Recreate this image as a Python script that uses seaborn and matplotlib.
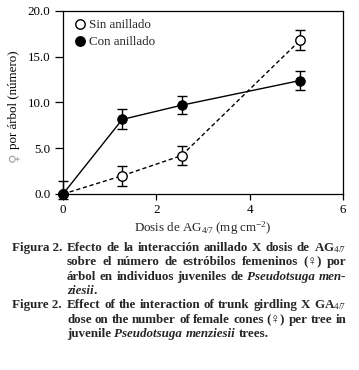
import matplotlib
matplotlib.use("Agg")
import matplotlib.pyplot as plt
import seaborn as sns
import pandas as pd
import numpy as np
from matplotlib.lines import Line2D

# ---- data ----
doses = [0.0, 1.27, 2.54, 5.08]
sin_anillado = [0.0, 2.0, 4.2, 16.8]
sin_err = [0.0, 1.1, 1.0, 1.08]
con_anillado = [0.0, 8.15, 9.7, 12.4]
con_err_low = [0.55, 1.0, 1.0, 1.07]
con_err_high = [1.45, 1.15, 1.05, 1.07]
group_labels = ["Sin anillado", "Con anillado"]
x_ticks = [0, 2, 4, 6]
y_ticks = [0, 5, 10, 15, 20]

sns.set_theme(style="ticks")
plt.rcParams["font.family"] = ["Liberation Serif", "DejaVu Serif"]
plt.rcParams["mathtext.fontset"] = "custom"
plt.rcParams["mathtext.rm"] = "Liberation Serif"
plt.rcParams["mathtext.it"] = "Liberation Serif:italic"
plt.rcParams["mathtext.bf"] = "Liberation Serif:bold"

FS = 9.4
W, H = 359, 370
fig = plt.figure(figsize=(W / 100, H / 100), dpi=100)
ax = fig.add_axes([63 / W, 1 - 194 / H, (343 - 63) / W, (194 - 11) / H])

df = pd.DataFrame({
    "dose": doses * 2,
    "value": sin_anillado + con_anillado,
    "group": [group_labels[0]] * 4 + [group_labels[1]] * 4,
})

# error bars (behind markers)
ax.errorbar(doses, sin_anillado, yerr=sin_err, fmt="none", ecolor="black",
            elinewidth=1.0, capsize=3.4, capthick=1.0, zorder=2, clip_on=False)
ax.errorbar(doses, con_anillado, yerr=[con_err_low, con_err_high], fmt="none",
            ecolor="black", elinewidth=1.0, capsize=3.4, capthick=1.0, zorder=2,
            clip_on=False)

sns.lineplot(data=df[df.group == group_labels[0]], x="dose", y="value", ax=ax,
             color="black", linewidth=1.0, linestyle=(0, (3, 2)), marker="o",
             markersize=6.8, markerfacecolor="white", markeredgecolor="black",
             markeredgewidth=1.0, errorbar=None, zorder=3, clip_on=False,
             legend=False)
sns.lineplot(data=df[df.group == group_labels[1]], x="dose", y="value", ax=ax,
             color="black", linewidth=1.0, marker="o", markersize=6.8,
             markerfacecolor="black", markeredgecolor="black",
             errorbar=None, zorder=4, clip_on=False, legend=False)

ax.set_xlim(0, 6)
ax.set_ylim(0, 20)
ax.set_xticks(x_ticks)
ax.set_xticklabels([str(t) for t in x_ticks])
ax.set_yticks(y_ticks)
ax.set_yticklabels([f"{t:.1f}" for t in y_ticks])
ax.tick_params(axis="both", labelsize=FS, colors="black", width=0.9, direction="out")
ax.tick_params(axis="y", length=6, pad=3)
ax.tick_params(axis="x", length=4, pad=3)
for sp in ax.spines.values():
    sp.set_visible(True)
    sp.set_linewidth(0.9)
    sp.set_color("black")

ax.set_xlabel("Dosis de AG$_{4/7}$ (mg cm$^{-2}$)", fontsize=FS, labelpad=3)
ax.set_ylabel("")

# y label: grey symbol + black text
fig.text(14 / W, 1 - 157 / H, "\u2640", rotation=90, fontsize=FS, color="#a0a0a0",
         ha="center", va="center", family=["DejaVu Serif"])
fig.text(14 / W, 1 - 149 / H, "por árbol (número)", rotation=90, fontsize=FS,
         color="black", ha="center", va="bottom")

handles = [
    Line2D([], [], linestyle="none", marker="o", markersize=6.8,
           markerfacecolor="white", markeredgecolor="black", markeredgewidth=1.0),
    Line2D([], [], linestyle="none", marker="o", markersize=6.8,
           markerfacecolor="black", markeredgecolor="black"),
]
ax.legend(handles, group_labels, loc="upper left", bbox_to_anchor=(0.036, 0.955),
          frameon=False, fontsize=FS, handlelength=1.0, handletextpad=0.25,
          labelspacing=0.38, borderaxespad=0, borderpad=0)

# ---- caption with word-level justification ----
CAP_FS = 9.4
renderer = fig.canvas.get_renderer()


def draw_line(segments, x0, x1, y, justify):
    # segments: list of (word, style) ; style in {"b", "bi"}
    arts = []
    for word, style in segments:
        t = fig.text(0, 1 - y / H, word, fontsize=CAP_FS, fontweight="bold",
                     fontstyle="italic" if "i" in style else "normal",
                     ha="left", va="baseline",
                     family=["Liberation Serif", "DejaVu Serif"])
        arts.append(t)
    widths = [a.get_window_extent(renderer).width for a in arts]
    sw = CAP_FS * 100 / 72 * 0.25
    n = len(arts)
    if justify and n > 1:
        gap = (x1 - x0 - sum(widths)) / (n - 1)
    else:
        gap = sw
    x = x0
    for (word, _), a, w in zip(segments, arts, widths):
        if word == ".":
            x -= gap
        a.set_x(x / W)
        x += w + gap


def words(s, style="b"):
    return [(w, style) for w in s.split(" ")]


X0, X1, XL = 67, 346, 12
fig.text(XL / W, 1 - 251 / H, "Figura 2.", fontsize=CAP_FS, fontweight="bold",
         ha="left", va="baseline")
fig.text(XL / W, 1 - 308 / H, "Figure 2.", fontsize=CAP_FS, fontweight="bold",
         ha="left", va="baseline")

draw_line(words("Efecto de la interacción anillado X dosis de") + [("AG$_{4/7}$", "b")],
          X0, X1, 251, True)
draw_line(words("sobre el número de estróbilos femeninos (\u2640) por"), X0, X1, 265, True)
draw_line(words("árbol en individuos juveniles de") + words("Pseudotsuga men-", "bi"),
          X0, X1, 280, True)
draw_line([("ziesii", "bi"), (".", "b")], X0, X1, 294, False)
draw_line(words("Effect of the interaction of trunk girdling X") + [("GA$_{4/7}$", "b")],
          X0, X1, 308, True)
draw_line(words("dose on the number of female cones (\u2640) per tree in"), X0, X1, 323, True)
draw_line(words("juvenile") + words("Pseudotsuga menziesii", "bi") + words("trees."),
          X0, X1, 337, False)

fig.savefig("out.png", dpi=100)
